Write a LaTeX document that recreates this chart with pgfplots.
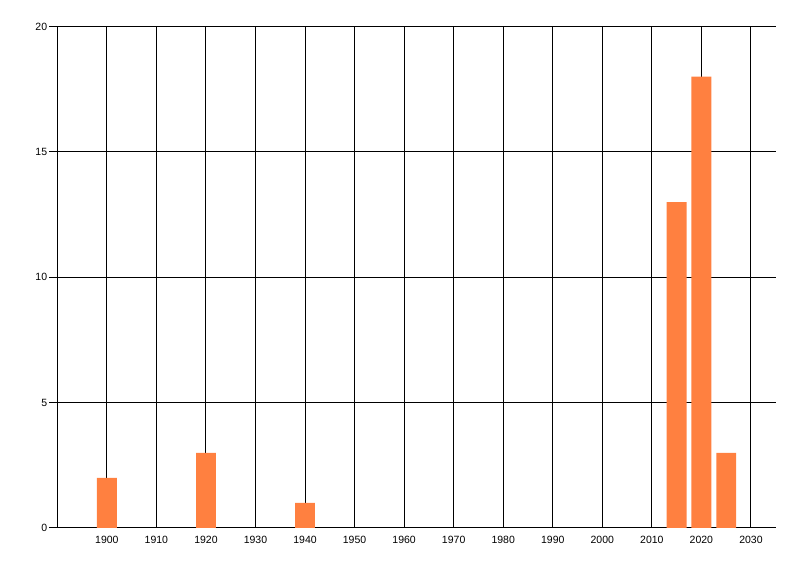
\documentclass[border=0pt]{standalone}
\usepackage{fontspec}
\setmainfont{Liberation Sans}
\usepackage{pgfplots}
\pgfplotsset{compat=1.18}
\definecolor{barorange}{RGB}{255,128,64}
\begin{document}
\begin{tikzpicture}[x=1bp,y=1bp]
\useasboundingbox (0,0) rectangle (800,576);
\begin{axis}[
  at={(57.3bp,48bp)}, anchor=south west,
  scale only axis, width=718.4bp, height=501.5bp,
  xmin=1890, xmax=2035, ymin=0, ymax=20,
  xtick={1900,1910,...,2030}, ytick={0,5,10,15,20},
  axis x line*=bottom, axis y line*=left,
  axis line style={black, line width=1bp},
  grid=major, major grid style={black, line width=1bp},
  tick align=outside, major tick length=8bp,
  xtick style={draw=none}, ytick style={black, line width=1bp},
  tick label style={font=\fontsize{10.5bp}{12bp}\selectfont, /pgf/number format/assume math mode=true},
  /pgf/number format/1000 sep={},
  xticklabel style={inner sep=0pt, anchor=north},
  yticklabel style={inner sep=0pt, anchor=east, xshift=-2bp},
]
\addplot[ybar, bar width=4, fill=barorange, draw=none] coordinates {
  (1900,2) (1920,3) (1940,1) (2015,13) (2020,18) (2025,3)
};
\end{axis}
\end{tikzpicture}
\end{document}
